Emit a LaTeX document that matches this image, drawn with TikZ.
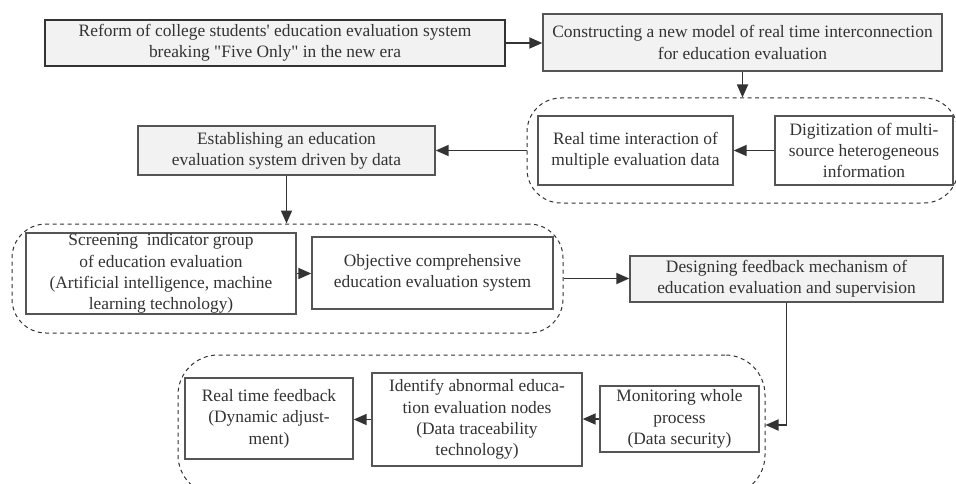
\documentclass[tikz,border=0pt]{standalone}
\usepackage{fontspec}
\setmainfont{Liberation Serif}[Ligatures=TeXOff]
\usetikzlibrary{arrows.meta}
\definecolor{txt}{HTML}{333333}
\definecolor{bord}{HTML}{555555}
\definecolor{gfill}{HTML}{F2F2F2}
\tikzset{
  box/.style={draw=bord, line width=1.4pt, fill=white, text=txt, align=center,
    inner sep=0pt, font=\fontsize{17.4}{21.3}\selectfont},
  gbox/.style={box, fill=gfill},
  grp/.style={draw=txt, dashed, dash pattern=on 4pt off 3.5pt, line width=1pt, rounded corners=34pt, inner sep=0pt},
  arr/.style={draw=txt, line width=1.8pt, -{Triangle[length=13pt,width=11pt]}},
}
\begin{document}
\begin{tikzpicture}[x=1pt,y=-1pt]
\useasboundingbox[fill=white] (0,0) rectangle (956,484);
\begin{scope}
\clip (0,0) rectangle (956,484);
% dashed groups
\node[grp, minimum width=431pt, minimum height=105pt] (g1) at (742.5,150.5) {};
\node[grp, minimum width=551pt, minimum height=109pt] (g2) at (287.5,278.5) {};
\node[grp, minimum width=587pt, minimum height=140pt, rounded corners=40pt] (g3) at (471.5,425) {};
\end{scope}
% boxes
\node[gbox, line width=2.4pt, draw=txt, minimum width=460pt, minimum height=46pt] (reform) at (275,43)
  {Reform of college students' education evaluation system\\breaking "Five Only" in the new era};
\node[gbox, minimum width=399pt, minimum height=57pt] (construct) at (742.5,42.5)
  {Constructing a new model of real time interconnection\\for education evaluation};
\node[box, minimum width=195pt, minimum height=69pt] (interact) at (635.5,150.5)
  {Real time interaction of\\multiple evaluation data};
\node[box, minimum width=178pt, minimum height=69pt] (digit) at (864,150.5)
  {Digitization of multi-\\source heterogeneous\\information};
\node[gbox, minimum width=297pt, minimum height=49pt] (establish) at (286.5,150.5)
  {Establishing an education\\evaluation system driven by data};
\node[box, minimum width=270pt, minimum height=81pt] (screen) at (161,273.5)
  {Screening\ \ indicator group\\of education evaluation\\(Artificial intelligence, machine\\learning technology)};
\node[box, minimum width=241pt, minimum height=72pt] (objective) at (432.5,273)
  {Objective comprehensive\\education evaluation system};
\node[gbox, minimum width=313pt, minimum height=46pt] (design) at (786.5,279)
  {Designing feedback mechanism of\\education evaluation and supervision};
\node[box, minimum width=159pt, minimum height=66pt] (monitor) at (679.5,419)
  {Monitoring whole\\process\\(Data security)};
\node[box, minimum width=210pt, minimum height=93pt] (identify) at (477,419.5)
  {Identify abnormal educa-\\tion evaluation nodes\\(Data traceability\\technology)};
\node[box, minimum width=168pt, minimum height=81pt] (feedback) at (269,418.5)
  {Real time feedback\\(Dynamic adjust-\\ment)};
% connectors
\draw[arr] (reform.east) -- (construct.west |- reform.east);
\draw[arr] (construct.south -| g1.north) -- (g1.north);
\draw[arr] (digit.west) -- (interact.east);
\draw[arr] (g1.west) -- (establish.east);
\draw[arr] (establish.south) -- (establish.south |- g2.north);
\draw[arr] (screen.east) -- (objective.west |- screen.east);
\draw[arr] (g2.east) -- (design.west |- g2.east);
\draw[arr] (design.south) |- (g3.east);
\draw[arr] (monitor.west) -- (identify.east |- monitor.west);
\draw[arr] (identify.west) -- (feedback.east |- identify.west);
\end{tikzpicture}
\end{document}
